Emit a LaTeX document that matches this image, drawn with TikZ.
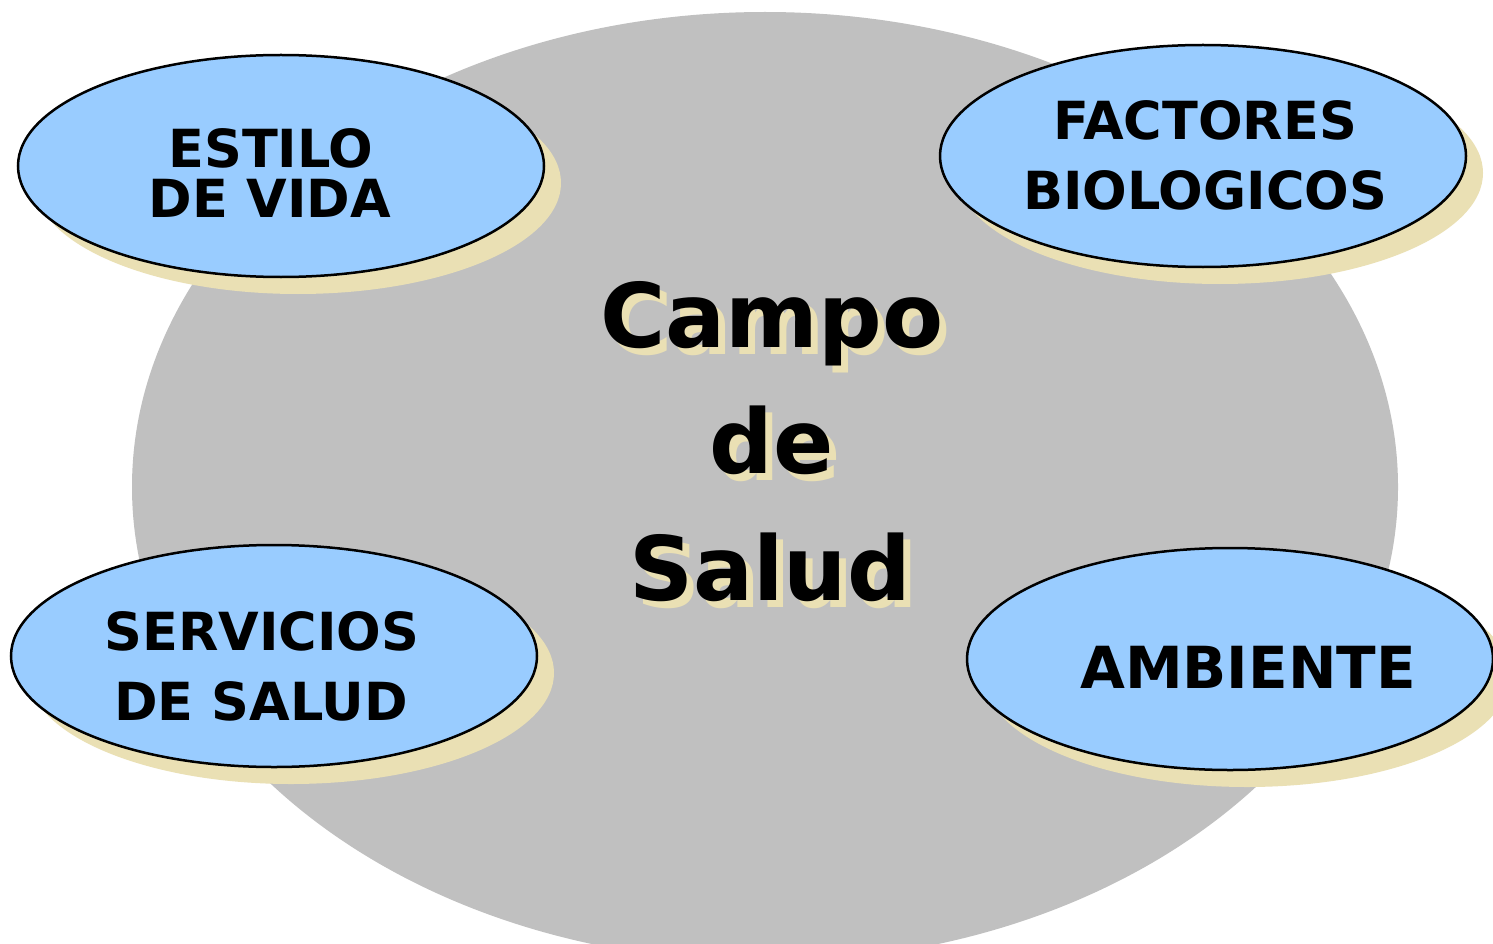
\documentclass[tikz,border=0pt]{standalone}
\usepackage{fontspec}
\setmainfont{DejaVu Sans}
\usetikzlibrary{shapes.geometric,shadows}
\definecolor{fieldgray}{HTML}{C0C0C0}
\definecolor{ovalblue}{HTML}{99CCFF}
\definecolor{cream}{HTML}{EAE0B4}
\tikzset{
  oval/.style={ellipse, draw=black, line width=2.5pt, fill=ovalblue,
    minimum width=526pt, minimum height=222pt, inner sep=0pt,
    drop shadow={shadow xshift=17pt, shadow yshift=-17pt, fill=cream, opacity=1}},
  lbl/.style={font=\bfseries\fontsize{52.5}{60}\selectfont, inner sep=0pt, anchor=base},
  biglbl/.style={font=\bfseries\fontsize{58}{66}\selectfont, inner sep=0pt, anchor=base},
  big/.style={font=\bfseries\fontsize{89}{100}\selectfont, inner sep=0pt, anchor=base},
  bigshadow/.style={big, text=cream}
}
\begin{document}
\begin{tikzpicture}[x=1pt,y=-1pt]
\useasboundingbox (0,0) rectangle (1493,944);
\clip (0,0) rectangle (1493,944);
\fill[white] (0,0) rectangle (1493,944);
% central field
\node[ellipse, fill=fieldgray, minimum width=1266pt, minimum height=950pt, inner sep=0pt] (campo) at (765,487) {};
% title with shadow
\node[bigshadow] (s1) at (779,354) {Campo};
\node[bigshadow] (s2) at (779,480) {de};
\node[bigshadow] (s3) at (777,607) {Salud};
\node[big] (c1) at (772,347) {Campo};
\node[big] (c2) at (772,473) {de};
\node[big] (c3) at (770,600) {Salud};
% four factors
\node[oval] (estilo) at (281,166) {};
\node[oval] (factores) at (1203,156) {};
\node[oval] (servicios) at (274,656) {};
\node[oval] (ambiente) at (1230,659) {};
\node[lbl] (e1) at (271,168) {ESTILO};
\node[lbl] (e2) at (270,218) {DE VIDA};
\node[lbl] (f1) at (1205,140) {FACTORES};
\node[lbl] (f2) at (1205,210) {BIOLOGICOS};
\node[lbl] (v1) at (262,650) {SERVICIOS};
\node[lbl] (v2) at (261,720) {DE SALUD};
\node[biglbl] (a1) at (1248,688) {AMBIENTE};
\end{tikzpicture}
\end{document}
